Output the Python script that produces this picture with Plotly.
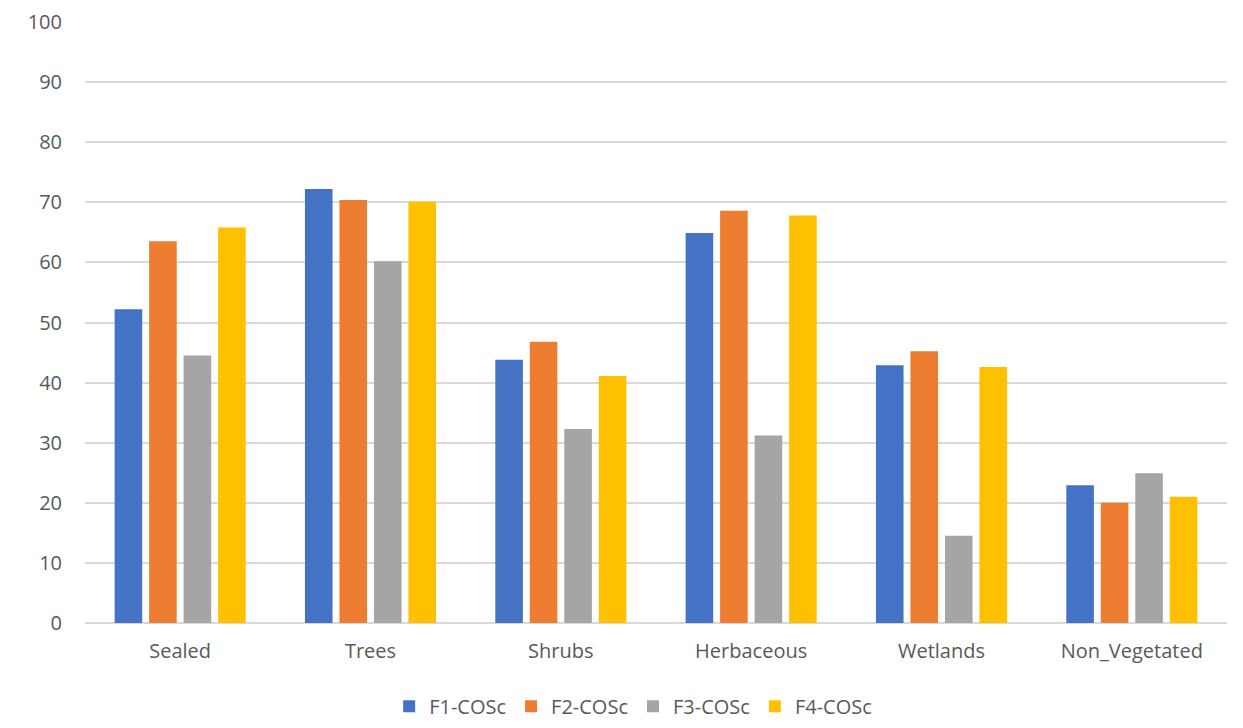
import plotly.graph_objects as go

categories = ["Sealed", "Trees", "Shrubs", "Herbaceous", "Wetlands", "Non_Vegetated"]
series_names = ["F1-COSc", "F2-COSc", "F3-COSc", "F4-COSc"]
f1 = [52.2, 72.2, 43.8, 64.9, 42.9, 22.9]
f2 = [63.5, 70.4, 46.8, 68.6, 45.2, 20.0]
f3 = [44.5, 60.2, 32.3, 31.2, 14.5, 24.9]
f4 = [65.8, 70.1, 41.1, 67.8, 42.6, 21.0]
colors = ["#4472C4", "#ED7D31", "#A5A5A5", "#FFC000"]
y_ticks = [0, 10, 20, 30, 40, 50, 60, 70, 80, 90, 100]

fig = go.Figure()
for name, vals, col in zip(series_names, [f1, f2, f3, f4], colors):
    fig.add_trace(go.Bar(x=categories, y=vals, name=name,
                         marker=dict(color=col, line=dict(width=0))))

font_family = "Open Sans, Liberation Sans, sans-serif"
fig.update_layout(
    width=1243, height=728,
    margin=dict(l=85, r=16, t=22, b=105, autoexpand=False),
    paper_bgcolor="white", plot_bgcolor="white",
    barmode="group", bargap=0.275, bargroupgap=0.2,
    font=dict(family=font_family, size=20, color="#595959"),
    showlegend=True,
    legend=dict(orientation="h", x=0.48, xanchor="center",
                yref="container", y=0.03, yanchor="middle",
                font=dict(size=20, color="#595959"), itemwidth=30,
                traceorder="normal"),
    xaxis=dict(showgrid=False, showline=False, ticks="", automargin=False,
               tickfont=dict(size=20, color="#595959"), ticklabelstandoff=14),
    yaxis=dict(range=[0, 100], tickvals=y_ticks, showgrid=True, gridcolor="#D9D9D9",
               gridwidth=1.5, zeroline=True, zerolinecolor="#D9D9D9", zerolinewidth=1.5,
               showline=False, ticks="", automargin=False,
               tickfont=dict(size=20, color="#595959"), ticklabelstandoff=22),
)

fig.write_html("out.html")
